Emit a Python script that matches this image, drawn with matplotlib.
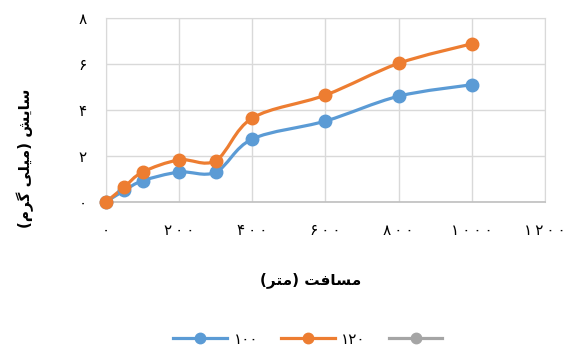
import numpy as np
import matplotlib
matplotlib.use("Agg")
import matplotlib.pyplot as plt
from matplotlib.path import Path
from matplotlib.patches import PathPatch
from matplotlib.lines import Line2D

# distance (m) and wear (mg) for the two loads
distance = [0, 50, 100, 200, 300, 400, 600, 800, 1000]
wear_100 = [0, 0.5, 0.92, 1.3, 1.3, 2.74, 3.52, 4.6, 5.1]
wear_120 = [0, 0.65, 1.3, 1.83, 1.8, 3.65, 4.65, 6.03, 6.88]

series_labels = ["۱۰۰", "۱۲۰", ""]
x_ticks = [0, 200, 400, 600, 800, 1000, 1200]
y_ticks = [0, 2, 4, 6, 8]

# Persian text pre-shaped (presentation forms, visual order)
xlabel_fa = "(\uFEAE\uFE98\uFEE3) \uFE96\uFED3\uFE8E\uFEB4\uFEE3"
ylabel_fa = "(\uFEE1\uFEAE\uFB94 \uFBFD\uFEE0\uFBFF\uFEE3) \uFEB6\uFBFE\uFE8E\uFEB3"

BLUE = "#5B9BD5"
ORANGE = "#ED7D31"
GRAY = "#A5A5A5"

FA_DIGITS = str.maketrans("0123456789", "۰۱۲۳۴۵۶۷۸۹")
THIN = "\u2009"


def fa(n):
    # Persian digits, spaced out a little
    return THIN.join(str(n).translate(FA_DIGITS))


def smooth_path(x, y):
    # Catmull-Rom style cubic Bezier through the points
    pts = np.column_stack([x, y]).astype(float)
    verts = [pts[0]]
    codes = [Path.MOVETO]
    for i in range(len(pts) - 1):
        p0 = pts[i - 1] if i > 0 else pts[i]
        p1, p2 = pts[i], pts[i + 1]
        p3 = pts[i + 2] if i + 2 < len(pts) else pts[i + 1]
        verts += [p1 + (p2 - p0) / 6, p2 - (p3 - p1) / 6, p2]
        codes += [Path.CURVE4] * 3
    return Path(verts, codes)


fig = plt.figure(figsize=(5.69, 3.47), dpi=100)
ax = fig.add_axes([0.1863, 0.418, 0.7715, 0.530])

for ys, color in [(wear_100, BLUE), (wear_120, ORANGE)]:
    ax.add_patch(PathPatch(smooth_path(distance, ys), fill=False,
                           edgecolor=color, lw=2.3, capstyle="round",
                           joinstyle="round", zorder=3))
    ax.plot(distance, ys, "o", color=color, markersize=9, clip_on=False, zorder=4)

ax.set_xlim(0, 1200)
ax.set_ylim(0, 8)
ax.set_xticks(x_ticks)
ax.set_yticks(y_ticks)
ax.set_xticklabels([fa(t) for t in x_ticks], fontsize=11)
ax.set_yticklabels([fa(t) for t in y_ticks], fontsize=11)
ax.tick_params(length=0)
ax.tick_params(axis="x", pad=15)
ax.tick_params(axis="y", pad=14)
ax.grid(True, color="#d9d9d9", lw=1)
ax.set_axisbelow(True)
for side in ["left", "top", "right"]:
    ax.spines[side].set_color("#d9d9d9")
ax.spines["bottom"].set_color("#bfbfbf")
ax.spines["bottom"].set_linewidth(1.2)

fig.text(0.5466, 0.193, xlabel_fa, fontsize=11, fontweight="bold",
         ha="center", va="center")
fig.text(0.044, 0.545, ylabel_fa, fontsize=11, fontweight="bold",
         ha="center", va="center", rotation=90)

handles = [Line2D([], [], color=c, lw=2.3, marker="o", markersize=7.5)
           for c in (BLUE, ORANGE, GRAY)]
fig.legend(handles, series_labels, loc="center", bbox_to_anchor=(0.547, 0.023),
           ncol=3, frameon=False, fontsize=11, handlelength=3.5,
           handletextpad=0.45, columnspacing=1.5)

fig.savefig("out.png", dpi=100)
